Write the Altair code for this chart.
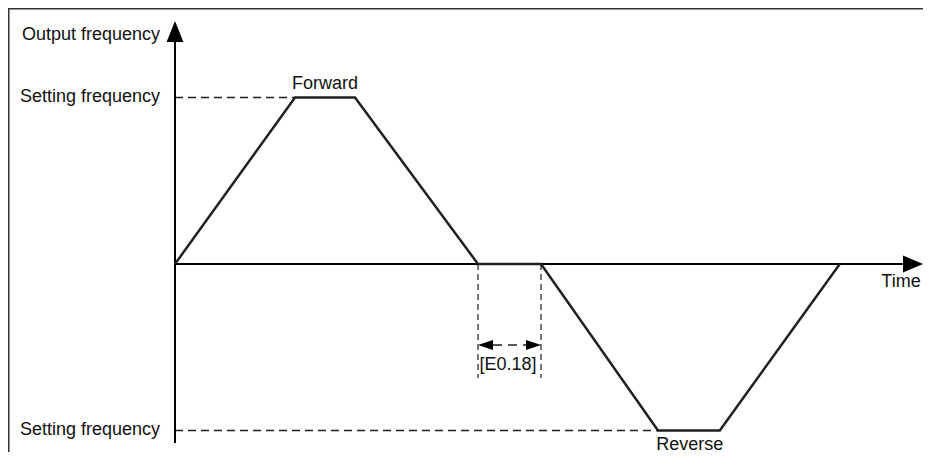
import altair as alt
import pandas as pd

# ---- data (time units, normalised frequency) ----
PROFILE_T = [0, 2, 3, 5.05, 6.1, 8.05, 9.08, 11.08]
PROFILE_F = [0, 1, 1, 0, 0, -1, -1, 0]

SET_FREQ = [1, -1]
SET_FREQ_END_T = [2, 8.05]          # dashed guides end where profile reaches setting freq

DEAD_T = [5.05, 6.1]                # zero-speed dwell  [E0.18]
DEAD_BOTTOM_F = -0.685
DIM_F = -0.486

Y_AXIS_F = [-1.075, 1.333]
Y_ARROW_F = 1.396
X_AXIS_T = [0, 12.13]
X_ARROW_T = 12.30

LABELS = ["Output frequency", "Setting frequency", "Setting frequency", "Forward", "Reverse", "Time", "[E0.18]"]
LABEL_T = [-0.25, -0.25, -0.25, 2.5, 8.58, 12.1, 5.55]
LABEL_F = [1.347, 1, -1, 1, -1, 0, DIM_F]

W, H = 915, 444
X_DOMAIN = [-167 / 60, (W - 167) / 60]
Y_DOMAIN = [-(H - 256) / 166.5, 256 / 166.5]

xs = alt.Scale(domain=X_DOMAIN, nice=False, zero=False)
ys = alt.Scale(domain=Y_DOMAIN, nice=False, zero=False)
X = lambda f="t": alt.X(f"{f}:Q", scale=xs, axis=None)
Y = lambda f="f": alt.Y(f"{f}:Q", scale=ys, axis=None)

FONT = "Liberation Sans"
INK = "#231f20"

# frame (top and left edge)
frame_top = alt.Chart(pd.DataFrame({"a": [0]})).mark_rule(color="#333333", strokeWidth=1.5).encode(
    x=alt.value(0), x2=alt.value(W), y=alt.value(0.75))
frame_left = alt.Chart(pd.DataFrame({"a": [0]})).mark_rule(color="#333333", strokeWidth=1.5).encode(
    x=alt.value(0.75), y=alt.value(0), y2=alt.value(H))

# axes
yaxis = alt.Chart(pd.DataFrame({"t": [0], "f": [Y_AXIS_F[0]], "f2": [Y_AXIS_F[1]]})).mark_rule(
    color="black", strokeWidth=2).encode(x=X(), y=Y(), y2="f2:Q")
xaxis = alt.Chart(pd.DataFrame({"t": [X_AXIS_T[0]], "t2": [X_AXIS_T[1]], "f": [0]})).mark_rule(
    color="black", strokeWidth=2).encode(x=X(), x2="t2:Q", y=Y())
yarrow = alt.Chart(pd.DataFrame({"t": [0], "f": [Y_ARROW_F]})).mark_point(
    shape="M0,-1L0.8,1L-0.8,1Z", filled=True, size=441, color="black", opacity=1).encode(x=X(), y=Y())
xarrow = alt.Chart(pd.DataFrame({"t": [X_ARROW_T], "f": [0]})).mark_point(
    shape="M1,0L-1,-0.85L-1,0.85Z", filled=True, size=400, color="black", opacity=1).encode(x=X(), y=Y())

# dashed guides to setting frequency
guides = alt.Chart(pd.DataFrame({"t": [0, 0], "t2": SET_FREQ_END_T, "f": SET_FREQ})).mark_rule(
    color=INK, strokeWidth=1.5, strokeDash=[8, 5]).encode(x=X(), x2="t2:Q", y=Y())

# vertical dashed markers for dwell time
vguides = alt.Chart(pd.DataFrame({"t": DEAD_T, "f": [0, 0], "f2": [DEAD_BOTTOM_F] * 2})).mark_rule(
    color=INK, strokeWidth=1.2, strokeDash=[6, 4]).encode(x=X(), y=Y(), y2="f2:Q")

# dimension arrow
dim_line = alt.Chart(pd.DataFrame({"t": [DEAD_T[0] + 0.25], "t2": [DEAD_T[1] - 0.25], "f": [DIM_F]})).mark_rule(
    color=INK, strokeWidth=1.5, strokeDash=[9, 6]).encode(x=X(), x2="t2:Q", y=Y())
dim_left = alt.Chart(pd.DataFrame({"t": [DEAD_T[0] + 0.125], "f": [DIM_F]})).mark_point(
    shape="M-1,0L1,-0.667L1,0.667Z", filled=True, size=225, color="black", opacity=1).encode(x=X(), y=Y())
dim_right = alt.Chart(pd.DataFrame({"t": [DEAD_T[1] - 0.125], "f": [DIM_F]})).mark_point(
    shape="M1,0L-1,-0.667L-1,0.667Z", filled=True, size=225, color="black", opacity=1).encode(x=X(), y=Y())

# frequency profile
profile = alt.Chart(pd.DataFrame({"t": PROFILE_T, "f": PROFILE_F, "o": range(len(PROFILE_T))})).mark_line(
    color=INK, strokeWidth=2.5).encode(x=X(), y=Y(), order="o:Q")

lab = pd.DataFrame({"label": LABELS, "t": LABEL_T, "f": LABEL_F})
txt = lambda sel, **kw: alt.Chart(lab.iloc[sel]).mark_text(
    font=FONT, fontSize=18, color="#111111", **kw).encode(x=X(), y=Y(), text="label:N")

t_out = txt([0], align="right", baseline="alphabetic")
t_set = txt([1, 2], align="right", baseline="middle", dy=-1)
t_fwd = txt([3], align="center", baseline="alphabetic", dy=-9)
t_rev = txt([4], align="center", baseline="alphabetic", dy=19)
t_time = txt([5], align="center", baseline="alphabetic", dy=23)
t_e = txt([6], align="center", baseline="alphabetic", dy=25)

chart = alt.layer(
    frame_top, frame_left, guides, vguides, xaxis, yaxis, yarrow, xarrow,
    profile, dim_line, dim_left, dim_right,
    t_out, t_set, t_fwd, t_rev, t_time, t_e,
).properties(width=W, height=H, padding=0, autosize="none", background="white").configure_view(strokeWidth=0)

chart.save("out.html", embed_options={"renderer": "svg", "actions": False})
